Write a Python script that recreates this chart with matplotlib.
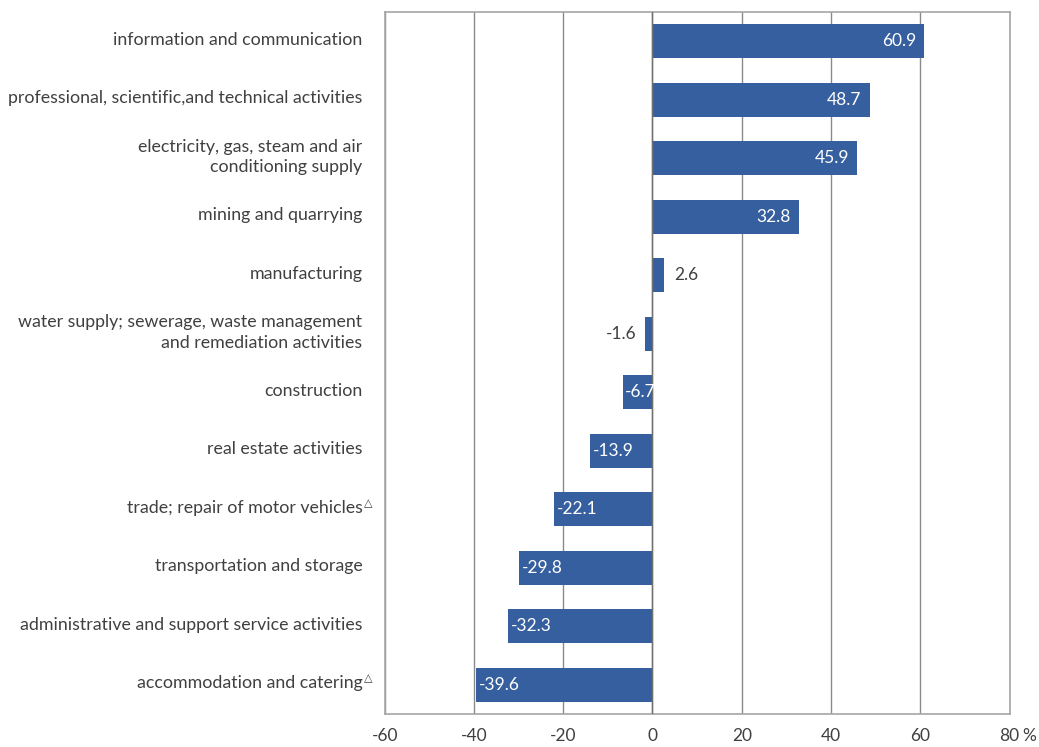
import matplotlib
matplotlib.use("Agg")
import matplotlib.pyplot as plt

categories = [
    "information and communication",
    "professional, scientific,and technical activities",
    "electricity, gas, steam and air\nconditioning supply",
    "mining and quarrying",
    "manufacturing",
    "water supply; sewerage, waste management\nand remediation activities",
    "construction",
    "real estate activities",
    "trade; repair of motor vehicles",
    "transportation and storage",
    "administrative and support service activities",
    "accommodation and catering",
]
values = [60.9, 48.7, 45.9, 32.8, 2.6, -1.6, -6.7, -13.9, -22.1, -29.8, -32.3, -39.6]
marked = [False, False, False, False, False, False, False, False, True, False, False, True]
xticks = [-60, -40, -20, 0, 20, 40, 60, 80]

BAR = "#365f9f"
TXT = "#404040"
FS = 12.8
plt.rcParams["font.family"] = ["Lato", "DejaVu Sans"]

fig = plt.figure(figsize=(10.39, 7.47), dpi=100)
ax = fig.add_axes([384.7 / 1039, 1 - 714 / 747, (1009.5 - 384.7) / 1039, (714 - 12) / 747])

ypos = list(range(len(categories)))
ax.barh(ypos, values, height=0.58, color=BAR, zorder=3)
ax.set_ylim(len(categories) - 0.5, -0.5)
ax.set_xlim(-60, 80)
ax.set_xticks(xticks)
ax.set_xticklabels([str(t) for t in xticks])
ax.set_yticks(ypos)
ax.set_yticklabels([])
ax.tick_params(axis="y", length=0)
ax.tick_params(axis="x", length=0, pad=10, labelsize=12.5, labelcolor=TXT)
ax.xaxis.grid(True, color="#8a8a8a", linewidth=1.0, zorder=1)
ax.axvline(0, color="#707070", linewidth=1.0, zorder=4)
for s in ax.spines.values():
    s.set_color("#a6a6a6")
    s.set_linewidth(1.2)

labels = []
for y, c in zip(ypos, categories):
    t = ax.annotate(c, (0, y), xycoords=("axes fraction", "data"), xytext=(-16, 1),
                    textcoords="offset points", ha="right", va="center",
                    fontsize=FS, color=TXT, linespacing=1.35, annotation_clip=False)
    labels.append(t)

for y, v in zip(ypos, values):
    lab = f"{v:.1f}"
    if abs(v) >= 5:
        if v > 0:
            ax.annotate(lab, (v, y), xytext=(-6, 0), textcoords="offset points",
                        ha="right", va="center", color="white", fontsize=12.5, zorder=5)
        else:
            ax.annotate(lab, (v, y), xytext=(2, 0), textcoords="offset points",
                        ha="left", va="center", color="white", fontsize=12.5, zorder=5)
    else:
        if v > 0:
            ax.annotate(lab, (v, y), xytext=(7, 0), textcoords="offset points",
                        ha="left", va="center", color=TXT, fontsize=12.5, zorder=5)
        else:
            ax.annotate(lab, (v, y), xytext=(-6, 0), textcoords="offset points",
                        ha="right", va="center", color=TXT, fontsize=12.5, zorder=5)

# "%" after last tick label
ax.annotate("%", (1.0, 0), xycoords="axes fraction", xytext=(9.5, -10),
            textcoords="offset points", ha="left", va="top", color=TXT, fontsize=12.5)

fig.canvas.draw()
renderer = fig.canvas.get_renderer()
inv = fig.transFigure.inverted()
for lbl, m in zip(labels, marked):
    if m:
        bb = lbl.get_window_extent(renderer)
        x0, y0 = inv.transform((bb.x1 + 1, bb.y1 + 2))
        fig.text(x0, y0, "\u25b3", fontsize=8, color=TXT, ha="left", va="top",
                 family=["DejaVu Sans"])

fig.savefig("out.png", dpi=100)
